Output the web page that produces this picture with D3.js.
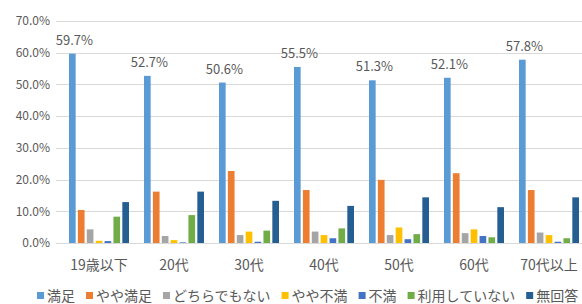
<!DOCTYPE html>
<html>
<head>
<meta charset="utf-8">
<script src="https://cdnjs.cloudflare.com/ajax/libs/d3/7.8.5/d3.min.js"></script>
<style>
  body { margin: 0; background: #fff; }
  svg { display: block; font-family: "Noto Sans CJK JP", "Noto Sans", sans-serif; }
</style>
</head>
<body>
<div id="chart"></div>
<script>
// categories and series
var categories = ["19歳以下", "20代", "30代", "40代", "50代", "60代", "70代以上"];
var seriesNames = ["満足", "やや満足", "どちらでもない", "やや不満", "不満", "利用していない", "無回答"];
var colors = ["#5B9BD5", "#ED7D31", "#A5A5A5", "#FFC000", "#4472C4", "#70AD47", "#255E91"];

// values (%), one array per series
var manzoku      = [59.7, 52.7, 50.6, 55.5, 51.3, 52.1, 57.8];
var yayaManzoku  = [10.4, 16.2, 22.7, 16.7, 19.9, 22.0, 16.7];
var dochiramo    = [4.3, 2.2, 2.5, 3.6, 2.5, 3.1, 3.3];
var yayaFuman    = [0.7, 0.9, 3.6, 2.5, 4.9, 4.3, 2.5];
var fuman        = [0.6, 0.2, 0.4, 1.5, 1.2, 2.2, 0.4];
var riyouShinai  = [8.3, 8.8, 3.9, 4.6, 2.8, 1.8, 1.5];
var mukaitou     = [12.9, 16.2, 13.3, 11.7, 14.4, 11.3, 14.4];

var yTicks = [0, 10, 20, 30, 40, 50, 60, 70];

var seriesValues = [manzoku, yayaManzoku, dochiramo, yayaFuman, fuman, riyouShinai, mukaitou];

var W = 582, H = 304;
var plot = {left: 61.5, right: 586.5, top: 21, bottom: 243};

var svg = d3.select("#chart").append("svg")
  .attr("width", W)
  .attr("height", H);

// scales
var x0 = d3.scaleBand()
  .domain(categories)
  .range([plot.left, plot.right])
  .paddingInner(0.2)
  .paddingOuter(0.1);

var x1 = d3.scaleBand()
  .domain(seriesNames)
  .range([0, x0.bandwidth()])
  .paddingInner(0.25);

var y = d3.scaleLinear()
  .domain([0, 70])
  .range([plot.bottom, plot.top]);

// gridlines
svg.append("g")
  .selectAll("line")
  .data(yTicks)
  .enter().append("line")
  .attr("x1", 56)
  .attr("x2", W)
  .attr("y1", function(d) { return Math.round(y(d)) + 0.5; })
  .attr("y2", function(d) { return Math.round(y(d)) + 0.5; })
  .attr("stroke", "#D9D9D9")
  .attr("stroke-width", 1);

// y axis labels
var yAxis = d3.axisLeft(y)
  .tickValues(yTicks)
  .tickSize(0)
  .tickPadding(0)
  .tickFormat(function(d) { return d3.format(".1f")(d) + "%"; });

var gy = svg.append("g")
  .attr("transform", "translate(50,0)")
  .call(yAxis);
gy.select(".domain").remove();
gy.selectAll("text")
  .attr("fill", "#595959")
  .style("font-size", "12px")
  .style("font-family", "\"Noto Sans CJK JP\", sans-serif");

// bars
var groups = svg.append("g")
  .selectAll("g")
  .data(categories)
  .enter().append("g")
  .attr("transform", function(d) { return "translate(" + x0(d) + ",0)"; });

groups.selectAll("rect")
  .data(function(d, i) {
    return seriesNames.map(function(s, j) { return {series: s, value: seriesValues[j][i], idx: j}; });
  })
  .enter().append("rect")
  .attr("x", function(d) { return x1(d.series); })
  .attr("width", x1.bandwidth())
  .attr("y", function(d) { return y(d.value); })
  .attr("height", function(d) { return y(0) - y(d.value); })
  .attr("fill", function(d) { return colors[d.idx]; });

// data labels on the first series only
groups.append("text")
  .attr("x", x1(seriesNames[0]) + x1.bandwidth() / 2 + 2)
  .attr("y", function(d, i) { return y(manzoku[i]) - 9; })
  .attr("text-anchor", "middle")
  .attr("fill", "#595959")
  .style("font-size", "13px")
  .text(function(d, i) { return d3.format(".1f")(manzoku[i]) + "%"; });

// x axis labels
var xAxis = d3.axisBottom(x0).tickSize(0).tickPadding(0);
var gx = svg.append("g")
  .attr("transform", "translate(0," + plot.bottom + ")")
  .call(xAxis);
gx.select(".domain").remove();
gx.selectAll("text")
  .attr("dy", null)
  .attr("y", 27)
  .attr("fill", "#595959")
  .style("font-size", "14px")
  .style("font-family", "\"Noto Sans CJK JP\", sans-serif");

// legend
var legend = svg.append("g").attr("transform", "translate(37,301)");
var lx = 0;
seriesNames.forEach(function(s, i) {
  var item = legend.append("g").attr("transform", "translate(" + lx + ",0)");
  item.append("rect")
    .attr("x", 0)
    .attr("y", -9)
    .attr("width", 7)
    .attr("height", 7)
    .attr("fill", colors[i]);
  var t = item.append("text")
    .attr("x", 10)
    .attr("y", 0)
    .attr("fill", "#595959")
    .style("font-size", "14px")
    .text(s);
  lx += 10 + t.node().getComputedTextLength() + 11;
});
</script>
</body>
</html>
